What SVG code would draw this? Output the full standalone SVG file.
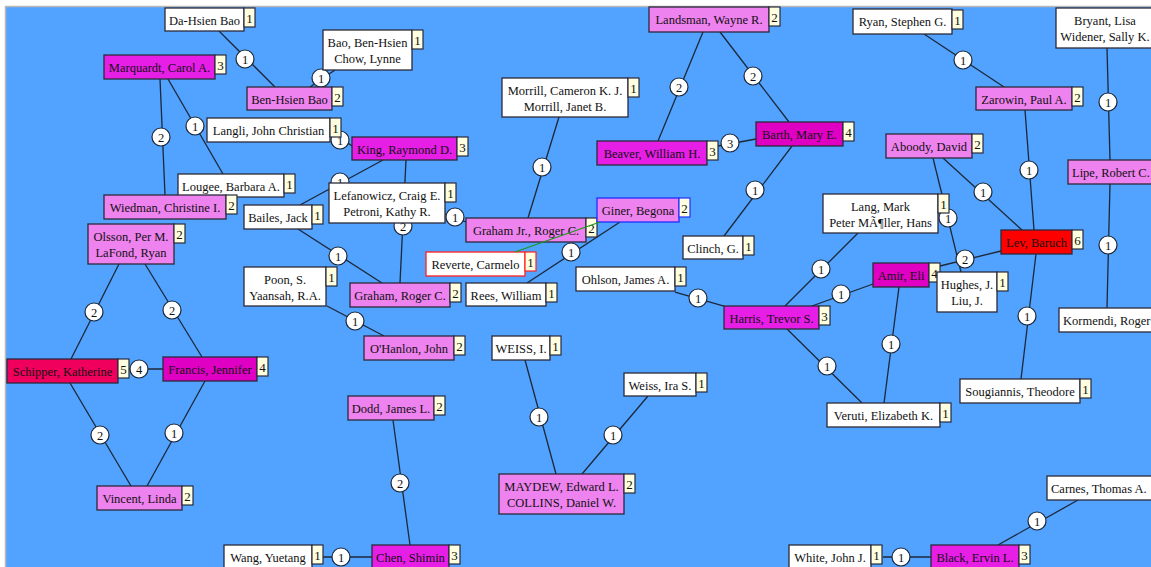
<svg xmlns="http://www.w3.org/2000/svg" width="1151" height="567" viewBox="0 0 1151 567">
<style>
.bx{stroke:#2a2a3a;stroke-width:1.3}
.w{fill:#ffffff}.v{fill:#ee82ee}.m{fill:#e61ee6}.mp{fill:#e000c4}.r{fill:#ff0000}.c{fill:#f0005c}
.cnt{fill:#ffffe0;stroke:#2a2a3a;stroke-width:1.2}
.t{font-family:"Liberation Serif",serif;font-size:12.5px;fill:#111;text-anchor:middle}
.ts{font-family:"Liberation Serif",serif;font-size:12.5px;fill:#111}
.ct{font-family:"Liberation Serif",serif;font-size:13px;fill:#111;text-anchor:middle}
.e{stroke:#1c2838;stroke-width:1.3;fill:none}
.g{stroke:#1a9a1a;stroke-width:1.2;fill:none}
.lc{fill:#fff;stroke:#1c2838;stroke-width:1.2}
.lt{font-family:"Liberation Serif",serif;font-size:12.5px;fill:#111;text-anchor:middle}
</style>
<rect x="0" y="0" width="1151" height="567" fill="#ffffff"/>
<rect x="5.5" y="6.5" width="1150" height="565" fill="#52a2ff" stroke="#b8b8b8" stroke-width="1.5"/>
<g id="connectors">
<line class="e" x1="219" y1="31" x2="275" y2="87"/><circle class="lc" cx="245" cy="59" r="9"/><text class="lt" x="245" y="63.5">1</text>
<line class="e" x1="335" y1="70" x2="310" y2="87"/><circle class="lc" cx="321" cy="78" r="9"/><text class="lt" x="321" y="82.5">1</text>
<line class="e" x1="160" y1="79" x2="165" y2="195"/><circle class="lc" cx="161" cy="137" r="9"/><text class="lt" x="161" y="141.5">2</text>
<line class="e" x1="168" y1="79" x2="223" y2="174"/><circle class="lc" cx="195" cy="126" r="9"/><text class="lt" x="195" y="130.5">1</text>
<line class="e" x1="336" y1="134" x2="352" y2="146"/><circle class="lc" cx="340" cy="140" r="9"/><text class="lt" x="340" y="144.5">1</text>
<line class="e" x1="406" y1="160" x2="400" y2="283"/><circle class="lc" cx="403" cy="226" r="9"/><text class="lt" x="403" y="230.5">2</text>
<line class="e" x1="383" y1="160" x2="300" y2="205"/><circle class="lc" cx="340" cy="182" r="9"/><text class="lt" x="340" y="186.5">1</text>
<line class="e" x1="298" y1="229" x2="382" y2="283"/><circle class="lc" cx="338" cy="256" r="9"/><text class="lt" x="338" y="260.5">1</text>
<line class="e" x1="327" y1="306" x2="384" y2="336"/><circle class="lc" cx="355" cy="321" r="9"/><text class="lt" x="355" y="325.5">1</text>
<line class="e" x1="445" y1="214" x2="466" y2="222"/><circle class="lc" cx="455" cy="217" r="9"/><text class="lt" x="455" y="221.5">1</text>
<line class="e" x1="559" y1="117" x2="528" y2="218"/><circle class="lc" cx="542" cy="167" r="9"/><text class="lt" x="542" y="171.5">1</text>
<line class="e" x1="620" y1="222" x2="527" y2="283"/><circle class="lc" cx="571" cy="252" r="9"/><text class="lt" x="571" y="256.5">1</text>
<line class="e" x1="703" y1="32" x2="658" y2="141"/><circle class="lc" cx="679" cy="87" r="9"/><text class="lt" x="679" y="91.5">2</text>
<line class="e" x1="720" y1="32" x2="789" y2="122"/><circle class="lc" cx="753" cy="76" r="9"/><text class="lt" x="753" y="80.5">2</text>
<line class="e" x1="718" y1="146" x2="756" y2="139"/><circle class="lc" cx="730" cy="143" r="9"/><text class="lt" x="730" y="147.5">3</text>
<line class="e" x1="792" y1="146" x2="724" y2="236"/><circle class="lc" cx="755" cy="190" r="9"/><text class="lt" x="755" y="194.5">1</text>
<line class="e" x1="675" y1="292" x2="724" y2="306"/><circle class="lc" cx="698" cy="298" r="9"/><text class="lt" x="698" y="302.5">1</text>
<line class="e" x1="858" y1="233" x2="785" y2="306"/><circle class="lc" cx="821" cy="269" r="9"/><text class="lt" x="821" y="273.5">1</text>
<line class="e" x1="812" y1="306" x2="873" y2="284"/><circle class="lc" cx="841" cy="294" r="9"/><text class="lt" x="841" y="298.5">1</text>
<line class="e" x1="787" y1="329" x2="862" y2="403"/><circle class="lc" cx="827" cy="366" r="9"/><text class="lt" x="827" y="370.5">1</text>
<line class="e" x1="899" y1="287" x2="884" y2="403"/><circle class="lc" cx="891" cy="344" r="9"/><text class="lt" x="891" y="348.5">1</text>
<line class="e" x1="933" y1="158" x2="961" y2="272"/><circle class="lc" cx="948" cy="218" r="9"/><text class="lt" x="948" y="222.5">1</text>
<line class="e" x1="940" y1="266" x2="1001" y2="251"/><circle class="lc" cx="965" cy="259" r="9"/><text class="lt" x="965" y="263.5">2</text>
<line class="e" x1="943" y1="158" x2="1022" y2="230"/><circle class="lc" cx="983" cy="192" r="9"/><text class="lt" x="983" y="196.5">1</text>
<line class="e" x1="1025" y1="110" x2="1034" y2="230"/><circle class="lc" cx="1029" cy="170" r="9"/><text class="lt" x="1029" y="174.5">1</text>
<line class="e" x1="924" y1="34" x2="1004" y2="87"/><circle class="lc" cx="963" cy="60" r="9"/><text class="lt" x="963" y="64.5">1</text>
<line class="e" x1="1107" y1="48" x2="1110" y2="160"/><circle class="lc" cx="1108" cy="102" r="9"/><text class="lt" x="1108" y="106.5">1</text>
<line class="e" x1="1110" y1="184" x2="1107" y2="308"/><circle class="lc" cx="1108" cy="245" r="9"/><text class="lt" x="1108" y="249.5">1</text>
<line class="e" x1="1036" y1="254" x2="1021" y2="379"/><circle class="lc" cx="1027" cy="316" r="9"/><text class="lt" x="1027" y="320.5">1</text>
<line class="e" x1="648" y1="396" x2="582" y2="474"/><circle class="lc" cx="613" cy="435" r="9"/><text class="lt" x="613" y="439.5">1</text>
<line class="e" x1="525" y1="360" x2="556" y2="474"/><circle class="lc" cx="539" cy="417" r="9"/><text class="lt" x="539" y="421.5">1</text>
<line class="e" x1="393" y1="420" x2="410" y2="545"/><circle class="lc" cx="400" cy="483" r="9"/><text class="lt" x="400" y="487.5">2</text>
<line class="e" x1="323" y1="557" x2="372" y2="557"/><circle class="lc" cx="341" cy="557" r="9"/><text class="lt" x="341" y="561.5">1</text>
<line class="e" x1="883" y1="557" x2="931" y2="557"/><circle class="lc" cx="901" cy="557" r="9"/><text class="lt" x="901" y="561.5">1</text>
<line class="e" x1="998" y1="545" x2="1078" y2="500"/><circle class="lc" cx="1037" cy="521" r="9"/><text class="lt" x="1037" y="525.5">1</text>
<line class="e" x1="119" y1="264" x2="71" y2="359"/><circle class="lc" cx="94" cy="312" r="9"/><text class="lt" x="94" y="316.5">2</text>
<line class="e" x1="145" y1="264" x2="202" y2="357"/><circle class="lc" cx="172" cy="310" r="9"/><text class="lt" x="172" y="314.5">2</text>
<line class="e" x1="129" y1="369" x2="163" y2="369"/><circle class="lc" cx="139" cy="369" r="9"/><text class="lt" x="139" y="373.5">4</text>
<line class="e" x1="70" y1="383" x2="131" y2="486"/><circle class="lc" cx="100" cy="435" r="9"/><text class="lt" x="100" y="439.5">2</text>
<line class="e" x1="205" y1="381" x2="147" y2="486"/><circle class="lc" cx="174" cy="433" r="9"/><text class="lt" x="174" y="437.5">1</text>
</g>
<g id="n-dahsien"><rect class="bx w" x="165" y="8" width="79" height="23"/><text class="t" x="204.5" y="24.5">Da-Hsien Bao</text><rect class="cnt" x="244" y="8" width="11" height="19"/><text class="ct" x="249.5" y="22.5">1</text></g>
<g id="n-marquardt"><rect class="bx m" x="104" y="55" width="111" height="24"/><text class="t" x="159.5" y="71.5">Marquardt, Carol A.</text><rect class="cnt" x="215" y="55" width="11" height="19"/><text class="ct" x="220.5" y="69.5">3</text></g>
<g id="n-benhsien"><rect class="bx v" x="247" y="87" width="85" height="23"/><text class="t" x="289.5" y="103.5">Ben-Hsien Bao</text><rect class="cnt" x="332" y="87" width="11" height="19"/><text class="ct" x="337.5" y="101.5">2</text></g>
<g id="n-baochow"><rect class="bx w" x="323" y="30" width="89" height="40"/><text class="t" x="367.5" y="47">Bao, Ben-Hsien</text><text class="t" x="367.5" y="63">Chow, Lynne</text><rect class="cnt" x="412" y="30" width="11" height="19"/><text class="ct" x="417.5" y="44.5">1</text></g>
<g id="n-langli"><rect class="bx w" x="207" y="118" width="123" height="24"/><text class="t" x="268.5" y="134.5">Langli, John Christian</text><rect class="cnt" x="330" y="118" width="11" height="19"/><text class="ct" x="335.5" y="132.5">1</text></g>
<g id="n-king"><rect class="bx m" x="352" y="137" width="105" height="23"/><text class="t" x="404.5" y="153.5">King, Raymond D.</text><rect class="cnt" x="457" y="137" width="11" height="19"/><text class="ct" x="462.5" y="151.5">3</text></g>
<g id="n-lougee"><rect class="bx w" x="178" y="174" width="106" height="23"/><text class="t" x="231" y="190.5">Lougee, Barbara A.</text><rect class="cnt" x="284" y="174" width="11" height="19"/><text class="ct" x="289.5" y="188.5">1</text></g>
<g id="n-wiedman"><rect class="bx v" x="104" y="195" width="122" height="24"/><text class="t" x="165" y="211.5">Wiedman, Christine I.</text><rect class="cnt" x="226" y="195" width="11" height="19"/><text class="ct" x="231.5" y="209.5">2</text></g>
<g id="n-bailes"><rect class="bx w" x="244" y="205" width="68" height="24"/><text class="t" x="278" y="221.5">Bailes, Jack</text><rect class="cnt" x="312" y="205" width="11" height="19"/><text class="ct" x="317.5" y="219.5">1</text></g>
<g id="n-lefanowicz"><rect class="bx w" x="329" y="183" width="116" height="40"/><text class="t" x="387" y="199.5">Lefanowicz, Craig E.</text><text class="t" x="387" y="216">Petroni, Kathy R.</text><rect class="cnt" x="445" y="183" width="11" height="19"/><text class="ct" x="450.5" y="197.5">1</text></g>
<g id="n-olsson"><rect class="bx v" x="88" y="224" width="86" height="40"/><text class="t" x="131" y="241">Olsson, Per M.</text><text class="t" x="131" y="257">LaFond, Ryan</text><rect class="cnt" x="174" y="224" width="11" height="19"/><text class="ct" x="179.5" y="238.5">2</text></g>
<g id="n-poon"><rect class="bx w" x="244" y="267" width="82" height="39"/><text class="t" x="285" y="283.5">Poon, S.</text><text class="t" x="285" y="299.5">Yaansah, R.A.</text><rect class="cnt" x="326" y="267" width="11" height="19"/><text class="ct" x="331.5" y="281.5">1</text></g>
<g id="n-grahamrc"><rect class="bx v" x="350" y="283" width="100" height="24"/><text class="t" x="400" y="299.5">Graham, Roger C.</text><rect class="cnt" x="450" y="283" width="11" height="19"/><text class="ct" x="455.5" y="297.5">2</text></g>
<g id="n-ohanlon"><rect class="bx v" x="364" y="336" width="90" height="24"/><text class="t" x="409" y="352.5">O'Hanlon, John</text><rect class="cnt" x="454" y="336" width="11" height="19"/><text class="ct" x="459.5" y="350.5">2</text></g>
<g id="n-grahamjr"><rect class="bx v" x="466" y="218" width="120" height="24"/><text class="t" x="526" y="234.5">Graham Jr., Roger C.</text><rect class="cnt" x="586" y="218" width="11" height="19"/><text class="ct" x="591.5" y="232.5">2</text></g>
<g id="n-reverte"><rect class="bx w" x="426" y="252" width="99" height="24" style="stroke:#ff2020"/><text class="t" x="475.5" y="268.5">Reverte, Carmelo</text><rect class="cnt" x="525" y="252" width="11" height="19" style="stroke:#ff2020"/><text class="ct" x="530.5" y="266.5">1</text></g>
<g id="n-rees"><rect class="bx w" x="466" y="283" width="80" height="23"/><text class="t" x="506" y="299.5">Rees, William</text><rect class="cnt" x="546" y="283" width="11" height="19"/><text class="ct" x="551.5" y="297.5">1</text></g>
<g id="n-weissi"><rect class="bx w" x="492" y="336" width="58" height="24"/><text class="t" x="521" y="352.5">WEISS, I.</text><rect class="cnt" x="550" y="336" width="11" height="19"/><text class="ct" x="555.5" y="350.5">1</text></g>
<g id="n-morrill"><rect class="bx w" x="502" y="78" width="126" height="39"/><text class="t" x="565" y="94.5">Morrill, Cameron K. J.</text><text class="t" x="565" y="110.5">Morrill, Janet B.</text><rect class="cnt" x="628" y="78" width="11" height="19"/><text class="ct" x="633.5" y="92.5">1</text></g>
<g id="n-landsman"><rect class="bx v" x="649" y="7" width="120" height="25"/><text class="t" x="709" y="24">Landsman, Wayne R.</text><rect class="cnt" x="769" y="7" width="11" height="19"/><text class="ct" x="774.5" y="21.5">2</text></g>
<g id="n-beaver"><rect class="bx m" x="597" y="141" width="110" height="24"/><text class="t" x="652" y="157.5">Beaver, William H.</text><rect class="cnt" x="707" y="141" width="11" height="19"/><text class="ct" x="712.5" y="155.5">3</text></g>
<g id="n-barth"><rect class="bx mp" x="756" y="122" width="87" height="24"/><text class="t" x="799.5" y="138.5">Barth, Mary E.</text><rect class="cnt" x="843" y="122" width="11" height="19"/><text class="ct" x="848.5" y="136.5">4</text></g>
<g id="n-giner"><rect class="bx v" x="597" y="198" width="82" height="24" style="stroke:#2030ff"/><text class="t" x="638" y="214.5">Giner, Begona</text><rect class="cnt" x="679" y="198" width="11" height="19" style="stroke:#2030ff"/><text class="ct" x="684.5" y="212.5">2</text></g>
<g id="n-clinch"><rect class="bx w" x="683" y="236" width="60" height="23"/><text class="t" x="713" y="252.5">Clinch, G.</text><rect class="cnt" x="743" y="236" width="11" height="19"/><text class="ct" x="748.5" y="250.5">1</text></g>
<g id="n-ohlson"><rect class="bx w" x="576" y="267" width="99" height="24"/><text class="t" x="625.5" y="283.5">Ohlson, James A.</text><rect class="cnt" x="675" y="267" width="11" height="19"/><text class="ct" x="680.5" y="281.5">1</text></g>
<g id="n-harris"><rect class="bx m" x="724" y="306" width="95" height="23"/><text class="t" x="771.5" y="322.5">Harris, Trevor S.</text><rect class="cnt" x="819" y="306" width="11" height="19"/><text class="ct" x="824.5" y="320.5">3</text></g>
<g id="n-lang"><rect class="bx w" x="823" y="194" width="115" height="39"/><text class="t" x="880.5" y="210.5">Lang, Mark</text><text class="t" x="880.5" y="226.5">Peter MÃ¶ller, Hans</text><rect class="cnt" x="938" y="194" width="11" height="19"/><text class="ct" x="943.5" y="208.5">1</text></g>
<g id="n-ryan"><rect class="bx w" x="853" y="9" width="99" height="25"/><text class="t" x="902.5" y="26">Ryan, Stephen G.</text><rect class="cnt" x="952" y="10" width="11" height="19"/><text class="ct" x="957.5" y="24.5">1</text></g>
<g id="n-zarowin"><rect class="bx v" x="976" y="87" width="96" height="23"/><text class="t" x="1024" y="103.5">Zarowin, Paul A.</text><rect class="cnt" x="1072" y="87" width="11" height="19"/><text class="ct" x="1077.5" y="101.5">2</text></g>
<g id="n-bryant"><rect class="bx w" x="1056" y="8" width="100" height="40"/><text class="t" x="1105" y="24.5">Bryant, Lisa</text><text class="t" x="1105" y="40.5">Widener, Sally K.</text></g>
<g id="n-aboody"><rect class="bx v" x="886" y="134" width="86" height="24"/><text class="t" x="929" y="150.5">Aboody, David</text><rect class="cnt" x="972" y="134" width="11" height="19"/><text class="ct" x="977.5" y="148.5">2</text></g>
<g id="n-lipe"><rect class="bx v" x="1068" y="160" width="95" height="24"/><text class="ts" x="1072" y="176.5">Lipe, Robert C.</text></g>
<g id="n-lev"><rect class="bx r" x="1001" y="230" width="71" height="24"/><text class="t" x="1036.5" y="246.5">Lev, Baruch</text><rect class="cnt" x="1072" y="230" width="11" height="19"/><text class="ct" x="1077.5" y="244.5">6</text></g>
<g id="n-amir"><rect class="bx mp" x="873" y="263" width="56" height="24"/><text class="t" x="901" y="279.5">Amir, Eli</text><rect class="cnt" x="929" y="263" width="11" height="19"/><text class="ct" x="934.5" y="277.5">4</text></g>
<g id="n-hughes"><rect class="bx w" x="937" y="272" width="60" height="40"/><text class="t" x="967" y="289">Hughes, J.</text><text class="t" x="967" y="305">Liu, J.</text><rect class="cnt" x="997" y="272" width="11" height="19"/><text class="ct" x="1002.5" y="286.5">1</text></g>
<g id="n-kormendi"><rect class="bx w" x="1059" y="308" width="100" height="24"/><text class="ts" x="1063" y="324.5">Kormendi, Roger</text></g>
<g id="n-veruti"><rect class="bx w" x="827" y="403" width="113" height="24"/><text class="t" x="883.5" y="419.5">Veruti, Elizabeth K.</text><rect class="cnt" x="940" y="403" width="11" height="19"/><text class="ct" x="945.5" y="417.5">1</text></g>
<g id="n-sougiannis"><rect class="bx w" x="960" y="379" width="120" height="24"/><text class="t" x="1020" y="395.5">Sougiannis, Theodore</text><rect class="cnt" x="1080" y="379" width="11" height="19"/><text class="ct" x="1085.5" y="393.5">1</text></g>
<g id="n-carnes"><rect class="bx w" x="1047" y="476" width="110" height="24"/><text class="ts" x="1051" y="492.5">Carnes, Thomas A.</text></g>
<g id="n-black"><rect class="bx m" x="931" y="545" width="88" height="24"/><text class="t" x="975" y="561.5">Black, Ervin L.</text><rect class="cnt" x="1019" y="545" width="11" height="19"/><text class="ct" x="1024.5" y="559.5">3</text></g>
<g id="n-white"><rect class="bx w" x="789" y="545" width="82" height="24"/><text class="t" x="830" y="561.5">White, John J.</text><rect class="cnt" x="871" y="545" width="11" height="19"/><text class="ct" x="876.5" y="559.5">1</text></g>
<g id="n-weissira"><rect class="bx w" x="624" y="373" width="72" height="23"/><text class="t" x="660" y="389.5">Weiss, Ira S.</text><rect class="cnt" x="696" y="373" width="11" height="19"/><text class="ct" x="701.5" y="387.5">1</text></g>
<g id="n-maydew"><rect class="bx v" x="499" y="474" width="125" height="40"/><text class="t" x="561.5" y="491">MAYDEW, Edward L.</text><text class="t" x="561.5" y="507">COLLINS, Daniel W.</text><rect class="cnt" x="624" y="474" width="11" height="19"/><text class="ct" x="629.5" y="488.5">2</text></g>
<g id="n-dodd"><rect class="bx v" x="348" y="396" width="86" height="24"/><text class="t" x="391" y="412.5">Dodd, James L.</text><rect class="cnt" x="434" y="396" width="11" height="19"/><text class="ct" x="439.5" y="410.5">2</text></g>
<g id="n-chen"><rect class="bx m" x="372" y="545" width="77" height="24"/><text class="t" x="410.5" y="561.5">Chen, Shimin</text><rect class="cnt" x="449" y="545" width="11" height="19"/><text class="ct" x="454.5" y="559.5">3</text></g>
<g id="n-wang"><rect class="bx w" x="224" y="545" width="88" height="24"/><text class="t" x="268" y="561.5">Wang, Yuetang</text><rect class="cnt" x="312" y="545" width="11" height="19"/><text class="ct" x="317.5" y="559.5">1</text></g>
<g id="n-schipper"><rect class="bx c" x="7" y="359" width="111" height="24"/><text class="t" x="62.5" y="375.5">Schipper, Katherine</text><rect class="cnt" x="118" y="359" width="11" height="19"/><text class="ct" x="123.5" y="373.5">5</text></g>
<g id="n-francis"><rect class="bx mp" x="163" y="357" width="94" height="24"/><text class="t" x="210" y="373.5">Francis, Jennifer</text><rect class="cnt" x="257" y="357" width="11" height="19"/><text class="ct" x="262.5" y="371.5">4</text></g>
<g id="n-vincent"><rect class="bx v" x="97" y="486" width="85" height="24"/><text class="t" x="139.5" y="502.5">Vincent, Linda</text><rect class="cnt" x="182" y="486" width="11" height="19"/><text class="ct" x="187.5" y="500.5">2</text></g>
<g id="connectors-highlight">
<line class="g" x1="515" y1="252" x2="600" y2="222"/>
</g>
</svg>
